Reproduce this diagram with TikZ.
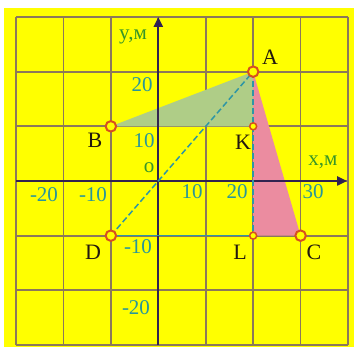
\documentclass[tikz,border=0pt]{standalone}
\usepackage{fontspec}
\setmainfont{Liberation Serif}
\usetikzlibrary{arrows.meta}
\definecolor{bgyellow}{RGB}{255,255,0}
\definecolor{gridc}{RGB}{140,120,90}
\definecolor{axisc}{RGB}{50,35,80}
\definecolor{tipc}{RGB}{40,20,110}
\definecolor{greenfill}{RGB}{175,205,135}
\definecolor{pinkfill}{RGB}{235,140,160}
\definecolor{tealc}{RGB}{46,150,165}
\definecolor{numc}{RGB}{40,150,155}
\definecolor{greentxt}{RGB}{55,150,40}
\definecolor{ptc}{RGB}{215,80,30}
\definecolor{letc}{RGB}{35,25,15}
\tikzset{
  gridline/.style={draw=gridc, line width=1.8pt},
  axisline/.style={draw=axisc, line width=2.2pt, -{Triangle[length=10pt,width=9pt,fill=tipc]}},
  dashline/.style={draw=tealc, line width=1.5pt, dash pattern=on 6pt off 3pt},
  solidline/.style={draw=tealc, line width=1.5pt},
  bigpt/.style={circle, draw=ptc, fill=bgyellow, line width=2pt, minimum size=10.5pt, inner sep=0pt},
  smallpt/.style={circle, draw=ptc, fill=bgyellow, line width=1.5pt, minimum size=7pt, inner sep=0pt},
  numlab/.style={text=numc, font=\fontsize{21}{22}\selectfont, inner sep=0pt},
  axlab/.style={text=greentxt, font=\fontsize{21}{22}\selectfont, inner sep=0pt},
  letlab/.style={text=letc, font=\fontsize{22}{24}\selectfont, inner sep=0pt}
}
\begin{document}
\begin{tikzpicture}[x=1pt,y=1pt]
\useasboundingbox (0,0) rectangle (354,347);
\fill[white] (0,0) rectangle (354,347);
\fill[bgyellow] (4,0) rectangle (354,339);
\begin{scope}[shift={(158.3,166)}, x=4.743pt, y=5.467pt]
  % grid
  \foreach \i in {-30,-20,...,40} \draw[gridline] (\i,-30) -- (\i,30);
  \foreach \j in {-30,-20,...,30} \draw[gridline] (-30,\j) -- (40,\j);
  % points
  \coordinate (O) at (0,0);
  \coordinate (Apos) at (20,20);
  \coordinate (Bpos) at (-10,10);
  \coordinate (Kpos) at (20,10);
  \coordinate (Dpos) at (-10,-10);
  \coordinate (Lpos) at (20,-10);
  \coordinate (Cpos) at (30,-10);
  % triangles
  \fill[greenfill] (Bpos) -- (Apos) -- (Kpos) -- cycle;
  \fill[pinkfill] (Apos) -- (Lpos) -- (Cpos) -- cycle;
  % axes
  \coordinate (xs) at (-30,0);
  \coordinate (xe) at (39.8,0);
  \coordinate (ys) at (0,-30);
  \coordinate (ye) at (0,30);
  \draw[axisline] (xs) -- (xe);
  \draw[axisline] (ys) -- (ye);
  % lines
  \draw[dashline] (Dpos) -- (Apos);
  \draw[dashline] (Apos) -- (Lpos);
  \draw[solidline] (Dpos) -- (Lpos);
  % point markers
  \node[bigpt] (A) at (Apos) {};
  \node[bigpt] (B) at (Bpos) {};
  \node[bigpt] (C) at (Cpos) {};
  \node[bigpt] (D) at (Dpos) {};
  \node[smallpt] (K) at (Kpos) {};
  \node[smallpt] (L) at (Lpos) {};
\end{scope}
% letter labels
\node[letlab] (lA) at (270,290) {A};
\node[letlab] (lB) at (95,207) {B};
\node[letlab] (lK) at (243,205) {K};
\node[letlab] (lD) at (93,95) {D};
\node[letlab] (lL) at (240,95) {L};
\node[letlab] (lC) at (314,95) {C};
% axis numbers
\node[numlab] (nx1) at (44,152) {-20};
\node[numlab] (nx2) at (93,152) {-10};
\node[numlab] (nx3) at (192,155) {10};
\node[numlab] (nx4) at (237,155) {20};
\node[numlab] (nx5) at (313,155) {30};
\node[numlab] (ny1) at (142,262) {20};
\node[numlab] (ny2) at (144,206) {10};
\node[numlab] (ny3) at (138,100) {-10};
\node[numlab] (ny4) at (136,39) {-20};
\node[axlab] (o) at (149,179) {o};
\node[axlab] (ylab) at (133,310) {y,м};
\node[axlab] (xlab) at (323,185) {x,м};
\end{tikzpicture}
\end{document}
